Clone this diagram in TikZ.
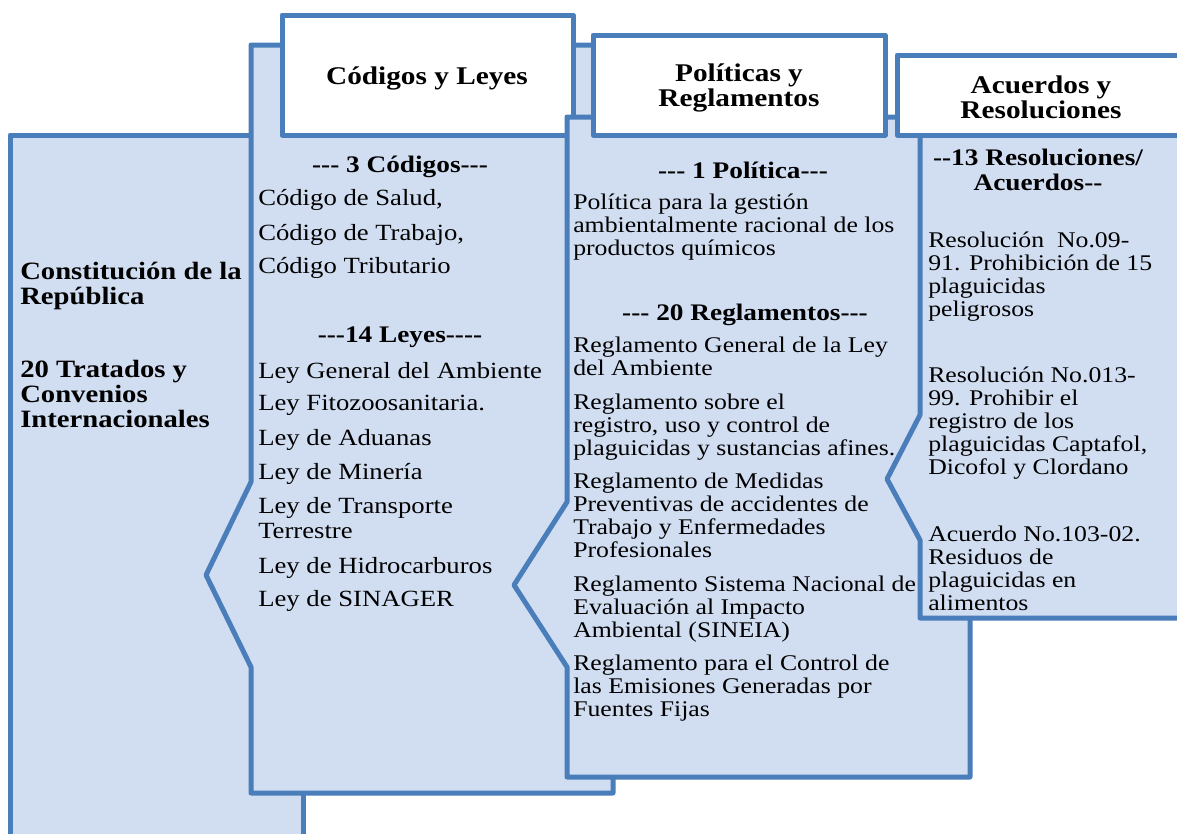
\documentclass[tikz,border=0pt]{standalone}
\usepackage{fontspec}
\setmainfont{Liberation Serif}[FakeStretch=1.15]
\definecolor{edgeblue}{RGB}{74,126,187}
\definecolor{panelblue}{RGB}{209,221,241}
\tikzset{
  panel/.style={draw=edgeblue, fill=panelblue, line width=3.75pt, line join=round},
  headbox/.style={draw=edgeblue, fill=white, line width=3.75pt, line join=round},
  headtxt/.style={inner sep=0.75pt, align=center, font=\bfseries\fontsize{19.1}{18.75}\selectfont},
  bigtxt/.style={anchor=north west, inner sep=0pt, align=left, font=\bfseries\fontsize{18.7}{18.75}\selectfont},
  subtxt/.style={inner sep=0.75pt, align=center, font=\bfseries\fontsize{17.8}{18.75}\selectfont},
  leytxt/.style={inner sep=0pt, align=left, font=\fontsize{17.4}{18.75}\selectfont},
  regtxt/.style={anchor=north west, inner sep=0pt, align=left, font=\fontsize{16.8}{17.25}\selectfont}
}
\begin{document}
\begin{tikzpicture}[x=0.75pt,y=0.75pt,yscale=-1,xscale=1]
\clip (0,0) rectangle (1177,833);

%Shape: Rectangle
\draw [panel] (10,135) -- (303,135) -- (303,860) -- (10,860) -- cycle ;
%Shape: Polygon
\draw [panel] (251,45) -- (613,45) -- (613,793) -- (251,793) -- (251,667) -- (206,575) -- (251,482) -- cycle ;
%Shape: Rectangle
\draw [headbox] (282,15) -- (573,15) -- (573,135) -- (282,135) -- cycle ;
%Shape: Polygon
\draw [panel] (567,117) -- (970,117) -- (970,777) -- (567,777) -- (567,667) -- (514,585) -- (567,502) -- cycle ;
%Shape: Rectangle
\draw [headbox] (593,35) -- (885,35) -- (885,135) -- (593,135) -- cycle ;
%Shape: Polygon
\draw [panel] (920,95) -- (1200,95) -- (1200,618) -- (920,618) -- (920,540) -- (887,479) -- (920,415) -- cycle ;
%Shape: Rectangle
\draw [headbox] (897,55) -- (1200,55) -- (1200,135) -- (897,135) -- cycle ;

% Text Node
\draw (20,262) node (constit) [bigtxt] {Constitución de la\\República};
% Text Node
\draw (20,360) node (tratados) [bigtxt] {20 Tratados y\\Convenios\\Internacionales};
% Text Node
\draw (427,78) node (hdcodigos) [headtxt] {Códigos y Leyes};
% Text Node
\draw (739,88) node (hdpoliticas) [headtxt] {Políticas y\\Reglamentos};
% Text Node
\draw (1041,97) node (hdacuerdos) [headtxt] {Acuerdos y\\Resoluciones};
% Text Node
\draw (400,167) node (subcodigos) [subtxt] {-{}-{}- 3 Códigos-{}-{}-};
% Text Node
\draw (400,337) node (subleyes) [subtxt] {-{}-{}-14 Leyes-{}-{}-{}-};
% Text Node
\draw (743,170) node (subpolitica) [subtxt] {-{}-{}- 1 Política-{}-{}-};
% Text Node
\draw (745,315) node (subreglam) [subtxt] {-{}-{}- 20 Reglamentos-{}-{}-};
% Text Node
\draw (1038,170) node (subresol) [subtxt] {-{}-13 Resoluciones/\\Acuerdos-{}-};
% Text Node
\draw (258,200) node (codsalud) [leytxt, anchor=west] {Código de Salud,};
% Text Node
\draw (258,235) node (codtrabajo) [leytxt, anchor=west] {Código de Trabajo,};
% Text Node
\draw (258,268) node (codtrib) [leytxt, anchor=west] {Código Tributario};
% Text Node
\draw (258,373) node (leyamb) [leytxt, anchor=west] {Ley General del Ambiente};
% Text Node
\draw (258,405) node (leyfito) [leytxt, anchor=west] {Ley Fitozoosanitaria.};
% Text Node
\draw (258,440) node (leyadu) [leytxt, anchor=west] {Ley de Aduanas};
% Text Node
\draw (258,474) node (leymin) [leytxt, anchor=west] {Ley de Minería};
% Text Node
\draw (258,497) node (leytrans) [leytxt, anchor=north west] {Ley de Transporte\\Terrestre};
% Text Node
\draw (258,568) node (leyhidro) [leytxt, anchor=west] {Ley de Hidrocarburos};
% Text Node
\draw (258,601) node (leysinager) [leytxt, anchor=west] {Ley de SINAGER};
% Text Node
\draw (573,194) node (polgestion) [regtxt] {Política para la gestión\\ambientalmente racional de los\\productos químicos};
% Text Node
\draw (573,337) node (regley) [regtxt] {Reglamento General de la Ley\\del Ambiente};
% Text Node
\draw (573,394) node (regplag) [regtxt] {Reglamento sobre el\\registro, uso y control de\\plaguicidas y sustancias afines.};
% Text Node
\draw (573,473) node (regmedidas) [regtxt] {Reglamento de Medidas\\Preventivas de accidentes de\\Trabajo y Enfermedades\\Profesionales};
% Text Node
\draw (573,576) node (regsineia) [regtxt] {Reglamento Sistema Nacional de\\Evaluación al Impacto\\Ambiental (SINEIA)};
% Text Node
\draw (573,655) node (regemis) [regtxt] {Reglamento para el Control de\\las Emisiones Generadas por\\Fuentes Fijas};
% Text Node
\draw (928,232) node (resnueve) [regtxt] {Resolución\ \ No.09-\\91. Prohibición de 15\\plaguicidas\\peligrosos};
% Text Node
\draw (928,367) node (restrece) [regtxt] {Resolución No.013-\\99. Prohibir el\\registro de los\\plaguicidas Captafol,\\Dicofol y Clordano};
% Text Node
\draw (928,526) node (acuerdo) [regtxt] {Acuerdo No.103-02.\\Residuos de\\plaguicidas en\\alimentos};

\end{tikzpicture}
\end{document}
